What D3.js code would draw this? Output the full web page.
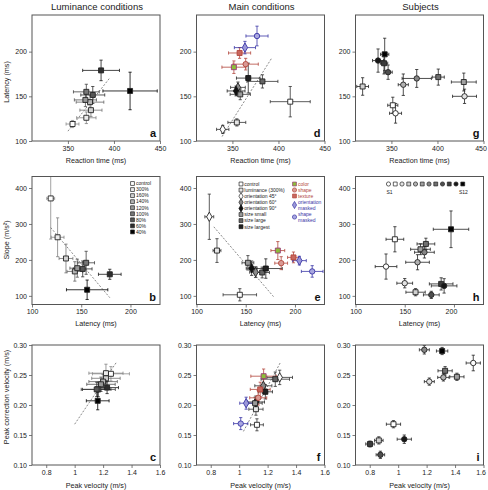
<!DOCTYPE html>
<html><head><meta charset="utf-8">
<script src="https://cdn.jsdelivr.net/npm/d3@7"></script>
<style>body{margin:0;background:#fff}svg{display:block}text{font-family:"Liberation Sans",Arial,sans-serif}</style>
</head><body><svg id="c" width="488" height="490"></svg>
<script>
// ---------- data ----------
const lumConds = ["control","300%","160%","140%","120%","100%","80%","60%","40%"];
const lumRT     = [355, 370, 375, 374, 369, 370, 377, 386, 417.5];
const lumRTErr  = [7, 10.5, 12, 15, 12, 14, 13, 20, 29.5];
const lumLat    = [119, 126, 134.5, 143.5, 146, 155, 151.5, 179, 156];
const lumLatErr = [4, 6.5, 7, 8, 7.5, 8.5, 9.5, 11.5, 21];
const lumSlope  = [371, 263, 204, 168, 177, 192, 175, 160, 117];
const lumSlopeErr = [113, 54, 40, 27, 25, 32, 22, 14, 27];
const lumPV     = [1.255, 1.22, 1.22, 1.2, 1.185, 1.166, 1.155, 1.228, 1.162];
const lumPVErr  = [0.13, 0.12, 0.1, 0.1, 0.1, 0.12, 0.1, 0.08, 0.08];
const lumPCV    = [0.252, 0.253, 0.2445, 0.239, 0.2345, 0.226, 0.226, 0.229, 0.207];
const lumPCVErr = [0.012, 0.015, 0.012, 0.012, 0.012, 0.012, 0.012, 0.01, 0.015];

const mainConds = ["control","luminance (300%)","orientation 45°","orientation 60°","orientation 90°","size small","size large","size largest","color","shape","texture","orientation masked","shape masked"];
const mainRT     = [412.8, 354.8, 339.5, 356, 354, 358.5, 382.6, 367.2, 351.6, 364.4, 357.8, 363.6, 376.7];
const mainRTErr  = [21.7, 9.7, 6.7, 8, 9.7, 11, 16.8, 12.8, 13, 13.7, 12, 11.5, 12];
const mainLat    = [144, 120.8, 113, 160, 156, 152.2, 166.7, 170.4, 182.6, 186, 198.5, 204.5, 217.5];
const mainLatErr = [17, 4, 4.5, 6, 5.5, 6, 7.4, 16.7, 7, 6.5, 6, 7, 11];
const mainSlope  = [103, 226, 320, 166, 177, 192, 165, 176, 226, 191, 207, 198, 168];
const mainSlopeErr = [17, 33, 63, 15, 20, 20, 15, 27, 25, 18, 15, 12, 16];
const mainPV     = [1.125, 1.118, 1.285, 1.17, 1.118, 1.112, 1.254, 1.184, 1.172, 1.134, 1.148, 1.049, 1.011];
const mainPVErr  = [0.045, 0.05, 0.09, 0.06, 0.06, 0.05, 0.1, 0.05, 0.09, 0.06, 0.07, 0.045, 0.05];
const mainPCV    = [0.167, 0.193, 0.246, 0.232, 0.205, 0.203, 0.243, 0.222, 0.248, 0.212, 0.226, 0.203, 0.169];
const mainPCVErr = [0.01, 0.01, 0.012, 0.012, 0.01, 0.01, 0.012, 0.012, 0.012, 0.012, 0.012, 0.01, 0.01];

const subjects = ["S1","S2","S3","S4","S5","S6","S7","S8","S9","S10","S11","S12"];
const subjRT     = [354.5, 351.5, 429.4, 318.75, 362.9, 428.6, 377.5, 400.9, 346.4, 342, 335.5, 342.7];
const subjRTErr  = [6.5, 5.5, 13, 6.4, 5.5, 13.5, 15.9, 6.5, 4.5, 4, 6, 4.5];
const subjLat    = [131, 140, 150, 161, 163, 166, 170, 171.5, 177, 187, 190, 197];
const subjLatErr = [11, 9, 8, 9.8, 12, 10, 10, 9, 8, 12, 13, 18];
const subjSlope  = [181.5, 257.4, 135.2, 110.2, 193.5, 229.6, 221.3, 244.4, 102.8, 133.3, 127.8, 285.2];
const subjSlopeErr = [35, 35, 13, 10, 21, 15, 16, 16, 10, 17, 20, 51];
const subjPV     = [1.528, 0.967, 1.219, 0.864, 1.318, 1.413, 1.184, 1.33, 0.875, 0.802, 1.043, 1.309];
const subjPVErr  = [0.05, 0.05, 0.035, 0.03, 0.04, 0.05, 0.035, 0.05, 0.03, 0.03, 0.05, 0.04];
const subjPCV    = [0.27, 0.168, 0.239, 0.141, 0.246, 0.247, 0.292, 0.257, 0.117, 0.135, 0.143, 0.29];
const subjPCVErr = [0.013, 0.006, 0.006, 0.006, 0.006, 0.006, 0.007, 0.007, 0.006, 0.005, 0.007, 0.006];

const fitA = [[350, 111], [395, 170]];
const fitB = [[119, 290], [179, 95]];
const fitC = [[1.0, 0.168], [1.296, 0.272]];
const fitD = [[338.8, 105], [392.8, 193]];
const fitE = [[117.6, 292], [178.2, 98]];
const fitF = [[1.03, 0.156], [1.288, 0.27]];

const colTitles = ["Luminance conditions", "Main conditions", "Subjects"];
const xLabels = ["Reaction time (ms)", "Latency (ms)", "Peak velocity (m/s)"];
const yLabels = ["Latency (ms)", "Slope (m/s\u00B2)", "Peak correction velocity (m/s)"];
const xTickVals = [[350, 400, 450], [100, 150, 200], [0.8, 1, 1.2, 1.4, 1.6]];
const yTickVals = [[100, 150, 200], [100, 200, 300, 400], [0.10, 0.15, 0.20, 0.25, 0.30]];
const xDomains = [[311, 450], [100, 230], [0.7, 1.6]];
const yDomains = [[100, 241], [76, 432], [0.1, 0.3]];
const letters = [["a","d","g"],["b","e","h"],["c","f","i"]];

// ---------- styles ----------
const lumFill = ['#ffffff','#ececec','#d2d2d2','#b4b4b4','#979797','#777777','#565656','#2e2e2e','#000000'];
const lumStyle = i => ({shape:'square', fill:lumFill[i], stroke:'#222', err:d3.interpolateRgb(lumFill[i],'#000')(0.45)});
const RED = '#b2463c', BLUE = '#3a36a6';
const mainStyleList = [
  {shape:'square', fill:'#fff', stroke:'#222', err:'#333'},
  {shape:'square', fill:'#e6e6e6', stroke:'#222', err:'#333'},
  {shape:'diamond', fill:'#fff', stroke:'#222', err:'#333'},
  {shape:'diamond', fill:'#8a8a8a', stroke:'#222', err:'#333'},
  {shape:'diamond', fill:'#111', stroke:'#111', err:'#222'},
  {shape:'square', fill:'#9a9a9a', stroke:'#222', err:'#333'},
  {shape:'square', fill:'#666', stroke:'#222', err:'#333'},
  {shape:'square', fill:'#222', stroke:'#111', err:'#222'},
  {shape:'square', fill:'#8dbd3a', stroke:'#9b3a78', err:RED},
  {shape:'circle', fill:'#d99a94', stroke:RED, err:RED},
  {shape:'square', fill:'#c9675e', stroke:RED, err:RED},
  {shape:'diamond', fill:'#9b98d8', stroke:BLUE, err:BLUE},
  {shape:'circle', fill:'#a9a7e0', stroke:BLUE, err:BLUE}
];
const mainStyle = i => mainStyleList[i];
const subjFill = ['#ffffff','#ffffff','#e2e2e2','#d0d0d0','#b2b2b2','#a0a0a0','#858585','#707070','#4e4e4e','#3c3c3c','#161616','#000000'];
const subjStyle = i => ({shape: i % 2 === 0 ? 'circle' : 'square', fill:subjFill[i], stroke:'#222', err:'#222'});

const symType = {square:d3.symbolSquare, circle:d3.symbolCircle, diamond:d3.symbolDiamond};
const symSize = {square:25, circle:23, diamond:25};

// ---------- layout ----------
const svg = d3.select('#c');
const colX = [32, 196.5, 355.5], W = 128;
const rowY = [[15, 141], [176.5, 304.5], [345, 465]];
const FONT = '"Liberation Sans", Arial, sans-serif';

function build(n, xs, xe, ys, ye, styleFn) {
  return d3.range(n).map(i => Object.assign({x:xs[i], xe:xe[i], y:ys[i], ye:ye[i]}, styleFn(i)));
}

let clipId = 0;
function panel(c, r, pts, fit) {
  const x0 = colX[c], y0 = rowY[r][0], y1 = rowY[r][1];
  const x = d3.scaleLinear().domain(xDomains[r]).range([x0, x0 + W]);
  const y = d3.scaleLinear().domain(yDomains[r]).range([y1, y0]);
  const g = svg.append('g');
  const xf = r === 2 ? d3.format('~g') : d3.format('d');
  const yf = r === 2 ? d3.format('.2f') : d3.format('d');
  const xa = g.append('g').attr('transform', `translate(0,${y1})`)
    .call(d3.axisBottom(x).tickValues(xTickVals[r]).tickSize(3).tickSizeOuter(0).tickPadding(2).tickFormat(xf));
  const ya = g.append('g').attr('transform', `translate(${x0},0)`)
    .call(d3.axisLeft(y).tickValues(yTickVals[r]).tickSize(3).tickSizeOuter(0).tickPadding(2).tickFormat(yf));
  [xa, ya].forEach(a => {
    a.select('.domain').remove();
    a.selectAll('line').attr('stroke', '#444').attr('stroke-width', 0.7);
    a.selectAll('text').attr('font-size', 7).attr('fill', '#222').attr('font-family', FONT);
  });
  if (c === 2) {
    // keep the right-most tick label inside the picture
    xa.selectAll('.tick').filter((d, i, n) => i === n.length - 1).select('text').attr('dx', -3);
  }
  const id = 'clip' + (clipId++);
  svg.append('clipPath').attr('id', id).append('rect').attr('x', x0).attr('y', y0).attr('width', W).attr('height', y1 - y0);
  const inner = g.append('g').attr('clip-path', `url(#${id})`);
  if (fit) {
    inner.append('line').attr('x1', x(fit[0][0])).attr('y1', y(fit[0][1])).attr('x2', x(fit[1][0])).attr('y2', y(fit[1][1]))
      .attr('stroke', '#555').attr('stroke-width', 0.7).attr('stroke-dasharray', '2,1.6');
  }
  const cap = 1.6;
  pts.forEach(p => {
    const eg = inner.append('g').attr('stroke', p.err).attr('stroke-width', 0.8);
    const px = x(p.x), py = y(p.y);
    const xl = x(p.x - p.xe), xr = x(p.x + p.xe), yt = y(p.y + p.ye), yb = y(p.y - p.ye);
    eg.append('line').attr('x1', xl).attr('x2', xr).attr('y1', py).attr('y2', py);
    eg.append('line').attr('x1', px).attr('x2', px).attr('y1', yt).attr('y2', yb);
    eg.append('line').attr('x1', xl).attr('x2', xl).attr('y1', py - cap).attr('y2', py + cap);
    eg.append('line').attr('x1', xr).attr('x2', xr).attr('y1', py - cap).attr('y2', py + cap);
    eg.append('line').attr('x1', px - cap).attr('x2', px + cap).attr('y1', yt).attr('y2', yt);
    eg.append('line').attr('x1', px - cap).attr('x2', px + cap).attr('y1', yb).attr('y2', yb);
  });
  pts.forEach(p => {
    inner.append('path').attr('d', d3.symbol().type(symType[p.shape]).size(symSize[p.shape])())
      .attr('transform', `translate(${x(p.x)},${y(p.y)})`)
      .attr('fill', p.fill).attr('stroke', p.stroke).attr('stroke-width', 0.9);
  });
  g.append('rect').attr('x', x0).attr('y', y0).attr('width', W).attr('height', y1 - y0)
    .attr('fill', 'none').attr('stroke', '#555').attr('stroke-width', 1);
  g.append('text').attr('x', x0 + W - 4).attr('y', y1 - 4).attr('text-anchor', 'end')
    .attr('font-size', 11).attr('font-weight', 'bold').attr('fill', '#111').text(letters[r][c]);
  const xlY = [163, 326, 488][r];
  g.append('text').attr('x', x0 + W / 2).attr('y', xlY).attr('text-anchor', 'middle')
    .attr('font-size', 7.2).attr('fill', '#222').text(xLabels[r]);
  return {x, y};
}

// titles
colTitles.forEach((t, c) => {
  svg.append('text').attr('x', colX[c] + W / 2 + 1).attr('y', 9.5).attr('text-anchor', 'middle')
    .attr('font-size', 9.5).attr('fill', '#222').text(t);
});
// y labels
const yLabCenters = [82, 240, 397];
yLabels.forEach((t, r) => {
  svg.append('text').attr('transform', `translate(8.5,${yLabCenters[r]}) rotate(-90)`).attr('text-anchor', 'middle')
    .attr('font-size', 7.2).attr('fill', '#222').text(t);
});

const nL = lumConds.length, nM = mainConds.length, nS = subjects.length;
panel(0, 0, build(nL, lumRT, lumRTErr, lumLat, lumLatErr, lumStyle), fitA);
panel(0, 1, build(nL, lumLat, lumLatErr, lumSlope, lumSlopeErr, lumStyle), fitB);
panel(0, 2, build(nL, lumPV, lumPVErr, lumPCV, lumPCVErr, lumStyle), fitC);
panel(1, 0, build(nM, mainRT, mainRTErr, mainLat, mainLatErr, mainStyle), fitD);
panel(1, 1, build(nM, mainLat, mainLatErr, mainSlope, mainSlopeErr, mainStyle), fitE);
panel(1, 2, build(nM, mainPV, mainPVErr, mainPCV, mainPCVErr, mainStyle), fitF);
panel(2, 0, build(nS, subjRT, subjRTErr, subjLat, subjLatErr, subjStyle), null);
panel(2, 1, build(nS, subjLat, subjLatErr, subjSlope, subjSlopeErr, subjStyle), null);
panel(2, 2, build(nS, subjPV, subjPVErr, subjPCV, subjPCVErr, subjStyle), null);

// ---------- legends ----------
function legSym(x, y, st) {
  svg.append('path').attr('d', d3.symbol().type(symType[st.shape]).size(symSize[st.shape] * 0.6)())
    .attr('transform', `translate(${x},${y})`).attr('fill', st.fill).attr('stroke', st.stroke).attr('stroke-width', 0.7);
}
// b legend
lumConds.forEach((t, i) => {
  const yy = 183.5 + i * 6.05;
  legSym(132.5, yy, lumStyle(i));
  svg.append('text').attr('x', 136).attr('y', yy + 1.8).attr('font-size', 5).attr('fill', '#222').text(t);
});
// e legend
mainConds.slice(0, 8).forEach((t, i) => {
  const yy = 184 + i * 6.1;
  legSym(241, yy, mainStyle(i));
  svg.append('text').attr('x', 244.3).attr('y', yy + 1.8).attr('font-size', 5).attr('fill', '#222').text(t);
});
const e2y = [184, 190, 196, 205, 217];
mainConds.slice(8).forEach((t, j) => {
  const i = j + 8, yy = e2y[j];
  legSym(294.5, yy, mainStyle(i));
  const col = i >= 11 ? BLUE : RED;
  const parts = t.split(' ');
  if (parts.length > 1) {
    svg.append('text').attr('x', 298).attr('y', yy - 1.2).attr('font-size', 5).attr('fill', col).text(parts[0]);
    svg.append('text').attr('x', 298).attr('y', yy + 4.9).attr('font-size', 5).attr('fill', col).text(parts[1]);
  } else {
    svg.append('text').attr('x', 298).attr('y', yy + 1.8).attr('font-size', 5).attr('fill', col).text(t);
  }
});
// h legend
subjects.forEach((t, i) => {
  const xx = 388.5 + i * 6.75;
  legSym(xx, 184, subjStyle(i));
});
svg.append('text').attr('x', 386.5).attr('y', 193.5).attr('font-size', 5).attr('fill', '#222').text(subjects[0]);
svg.append('text').attr('x', 459).attr('y', 193.5).attr('font-size', 5).attr('fill', '#222').text(subjects[nS - 1]);
</script></body></html>
